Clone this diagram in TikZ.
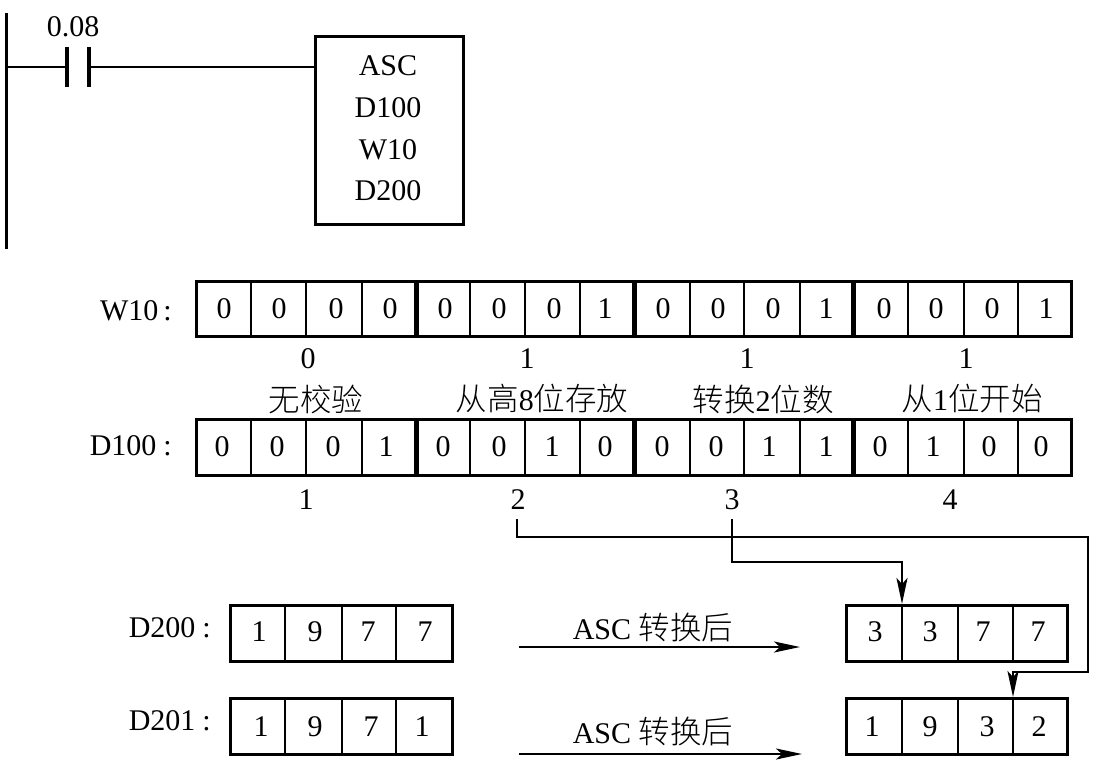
\documentclass[tikz,border=0pt]{standalone}
\usepackage{fontspec}
\setmainfont{Liberation Serif}
\newfontfamily\cjk{Noto Sans CJK SC}[UprightFont=* Light,Scale=1.05]
\usetikzlibrary{arrows.meta}
\tikzset{
  txt/.style={inner sep=0pt,font=\fontsize{30}{34}\selectfont},
  rule/.style={line width=2.5pt},
  sep/.style={line width=5pt},
  wire/.style={line width=2.4pt},
  head/.style={-{Stealth[length=26pt,width=11pt,inset=6pt]}},
}
\begin{document}
\begin{tikzpicture}[x=1pt,y=-1pt]
\useasboundingbox (0,0) rectangle (1105,771);
% ladder
\coordinate (railT) at (6,13);
\coordinate (railB) at (6,249);
\coordinate (railM) at (6,67);
\draw[line width=3pt] (railT) -- (railB);
\node[txt] (contactlabel) at (73,27) {0.08};
\coordinate (pa) at (67,67);
\coordinate (pb) at (89,67);
\draw[line width=4.5pt] (67,47) -- (67,87);
\draw[line width=4pt] (89,47) -- (89,87);
\draw[wire] (railM) -- (pa);
\node[draw,line width=3pt,minimum width=148pt,minimum height=188pt,inner sep=0pt] (asc) at (389,130) {};
\draw[wire] (pb) -- (asc.west |- pb);
\node[txt] (t1) at (388,66) {ASC};
\node[txt] (t2) at (388,108) {D100};
\node[txt] (t3) at (388,150) {W10};
\node[txt] (t4) at (388,191) {D200};
% W10 row
\node[txt,anchor=east] (lw) at (172,311) {W10\,:};
\draw[line width=3pt] (196,281) rectangle (1071,336);
\foreach \x in {251,306,362,470,525,580,690,744,800,908,964,1018} \draw[rule] (\x,281) -- (\x,336);
\foreach \x in {416,634,853} \draw[sep] (\x,281) -- (\x,336);
\foreach \x/\d [count=\i] in {224/0,279/0,336/0,390/0,445/0,499/0,554/0,605/1,663/0,718/0,773/0,826/1,884/0,936/0,992/0,1046/1}
  \node[txt] (w\i) at (\x,309) {\d};
\node[txt] (h1) at (308,359) {0};
\node[txt] (h2) at (527,359) {1};
\node[txt] (h3) at (747,359) {1};
\node[txt] (h4) at (966,359) {1};
\node[txt] (c1) at (316,399) {\cjk 无校验};
\node[txt] (c2) at (542,399) {\cjk 从高\rmfamily 8\cjk 位存放};
\node[txt] (c3) at (763,399) {\cjk 转换\rmfamily 2\cjk 位数};
\node[txt] (c4) at (972,399) {\cjk 从\rmfamily 1\cjk 位开始};
% D100 row
\node[txt,anchor=east] (ld) at (172,446) {D100\hspace{7pt}:};
\draw[line width=3pt] (196,419) rectangle (1071,475);
\foreach \x in {251,306,362,470,525,580,690,744,800,908,964,1018} \draw[rule] (\x,419) -- (\x,475);
\foreach \x in {416,634,853} \draw[sep] (\x,419) -- (\x,475);
\foreach \x/\d [count=\i] in {222/0,277/0,333/0,386/1,443/0,499/0,552/1,605/0,662/0,716/0,769/1,826/1,880/0,933/1,989/0,1041/0}
  \node[txt] (d\i) at (\x,447) {\d};
\node[txt] (n1) at (306,500) {1};
\node[txt] (n2) at (518,500) {2};
\node[txt] (n3) at (732,500) {3};
\node[txt] (n4) at (950,500) {4};
% D200/D201 left
\node[txt,anchor=east] (l200) at (211,628) {D200\hspace{7pt}:};
\node[txt,anchor=east] (l201) at (211,721) {D201\hspace{7pt}:};
\draw[line width=3pt] (230,605) rectangle (452,661);
\draw[line width=3pt] (230,698) rectangle (452,754);
\foreach \x in {285,342,396} {\draw[rule] (\x,605) -- (\x,661); \draw[rule] (\x,698) -- (\x,754);}
\foreach \x/\d [count=\i] in {259/1,315/9,368/7,425/7} \node[txt] (a\i) at (\x,632) {\d};
\foreach \x/\d [count=\i] in {261/1,315/9,371/7,422/1} \node[txt] (b\i) at (\x,727) {\d};
% right rows
\draw[line width=3pt] (846,605) rectangle (1067,661);
\draw[line width=3pt] (846,698) rectangle (1067,754);
\foreach \x in {902,958,1013} {\draw[rule] (\x,605) -- (\x,661); \draw[rule] (\x,698) -- (\x,754);}
\foreach \x/\d [count=\i] in {875/3,930/3,983/7,1038/7} \node[txt] (e\i) at (\x,632) {\d};
\foreach \x/\d [count=\i] in {872/1,930/9,987/3,1039/2} \node[txt] (f\i) at (\x,727) {\d};
% middle arrows
\node[txt] (m1) at (653,627) {ASC \cjk 转换后};
\node[txt] (m2) at (653,731) {ASC \cjk 转换后};
\coordinate (s1) at (519,647);
\coordinate (s2) at (519,754);
\coordinate (g1) at (800,647);
\coordinate (g2) at (802,754);
\draw[wire,head] (s1) -- (g1);
\draw[wire,head] (s2) -- (g2);
% connectors
\coordinate (from2) at (517,519);
\coordinate (from3) at (732,519);
\coordinate (to3) at (902,604);
\coordinate (to2) at (1013,697);
\draw[wire,head] (from3) -- (732,562) -- (902,562) -- (to3);
\draw[wire,head] (from2) -- (517,537) -- (1088,537) -- (1088,672) -- (1013,672) -- (to2);
\end{tikzpicture}
\end{document}
